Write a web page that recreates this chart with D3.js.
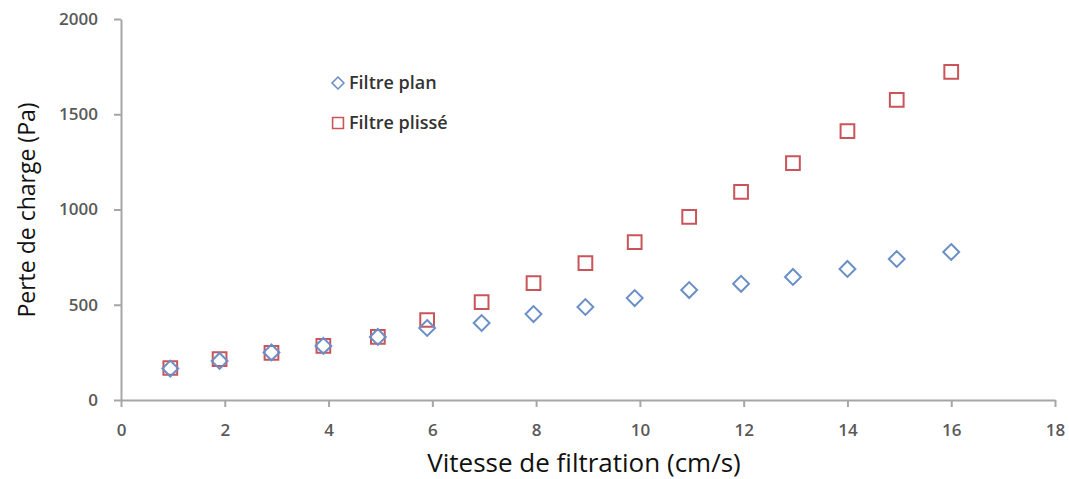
<!DOCTYPE html>
<html>
  <head>
    <meta charset="utf-8">
    <title>Perte de charge</title>
    <style>
      body{ margin:0; background:#fff; }
      svg{ display:block; }
      .tick text{ font-family: "Open Sans", sans-serif; font-size:17px; fill:#595959; font-weight:600; }
      .axis path, .axis line{ stroke:#a6a6a6; stroke-width:2; }
    </style>
  </head>
  <body>
    <svg id="chart" width="1069" height="479"></svg>
  </body>
  <script src="https://d3js.org/d3.v7.min.js"></script>
  <script>
    // vitesse (cm/s)
    var vitesse = [0.95, 1.9, 2.9, 3.9, 4.95, 5.9, 6.95, 7.95, 8.95, 9.9, 10.95, 11.95, 12.95, 14, 14.95, 16]
    var filtrePlan = [165, 205, 250, 284, 331, 378, 404, 451, 488, 535, 577, 610, 646, 688, 740, 777]
    var filtrePlisse = [168, 215, 247, 284, 331, 420, 514, 614, 719, 829, 961, 1092, 1244, 1412, 1575, 1722]
    var xTicks = [0, 2, 4, 6, 8, 10, 12, 14, 16, 18]
    var yTicks = [0, 500, 1000, 1500, 2000]

    var svg = d3.select("#chart")
    var x = d3.scaleLinear().domain([0, 18]).range([121, 1055])
    var y = d3.scaleLinear().domain([0, 2000]).range([400, 19])

    svg.append("g").attr("class", "axis")
      .attr("transform", "translate(0,400)")
      .call(d3.axisBottom(x).tickValues(xTicks).tickSize(7).tickSizeOuter(0).tickPadding(17).tickFormat(d3.format("d")))
    svg.append("g").attr("class", "axis")
      .attr("transform", "translate(121,0)")
      .call(d3.axisLeft(y).tickValues(yTicks).tickSize(7).tickSizeOuter(0).tickPadding(16).tickFormat(d3.format("d")))

    var blue = "#6a8fc7", red = "#c9545a"
    var diamond = d3.symbol().type(d3.symbolDiamond2).size(160)
    var square = d3.symbol().type(d3.symbolSquare2).size(240)

    svg.append("g").selectAll("path").data(vitesse).enter()
      .append("path")
      .attr("d", square)
      .attr("transform", function(d, i){ return "translate(" + x(d) + "," + y(filtrePlisse[i]) + ")" })
      .attr("fill", "none").attr("stroke", red).attr("stroke-width", 2)

    svg.append("g").selectAll("path").data(vitesse).enter()
      .append("path")
      .attr("d", diamond)
      .attr("transform", function(d, i){ return "translate(" + x(d) + "," + y(filtrePlan[i]) + ")" })
      .attr("fill", "none").attr("stroke", blue).attr("stroke-width", 2)

    // legende
    var legend = [
      {name: "Filtre plan", sym: d3.symbol().type(d3.symbolDiamond2).size(90), color: blue, y: 83},
      {name: "Filtre plissé", sym: d3.symbol().type(d3.symbolSquare2).size(150), color: red, y: 123}
    ]
    var lg = svg.append("g").selectAll("g").data(legend).enter()
      .append("g").attr("transform", function(d){ return "translate(338," + d.y + ")" })
    lg.append("path").attr("d", function(d){ return d.sym() })
      .attr("fill", "none").attr("stroke", function(d){ return d.color }).attr("stroke-width", 1.6)
    lg.append("text").attr("x", 11).attr("dy", "0.35em")
      .style("font-family", "'Open Sans', sans-serif").style("font-size", "18px")
      .style("font-weight", "600").style("fill", "#333")
      .text(function(d){ return d.name })

    svg.append("text")
      .attr("transform", "translate(35,210) rotate(-90)")
      .attr("text-anchor", "middle")
      .style("font-family", "'Open Sans', sans-serif").style("font-size", "23px").style("fill", "#111")
      .text("Perte de charge (Pa)")

    svg.append("text")
      .attr("x", 584).attr("y", 472)
      .attr("text-anchor", "middle")
      .style("font-family", "'Open Sans', sans-serif").style("font-size", "26px").style("fill", "#111")
      .text("Vitesse de filtration (cm/s)")
  </script>
</html>
